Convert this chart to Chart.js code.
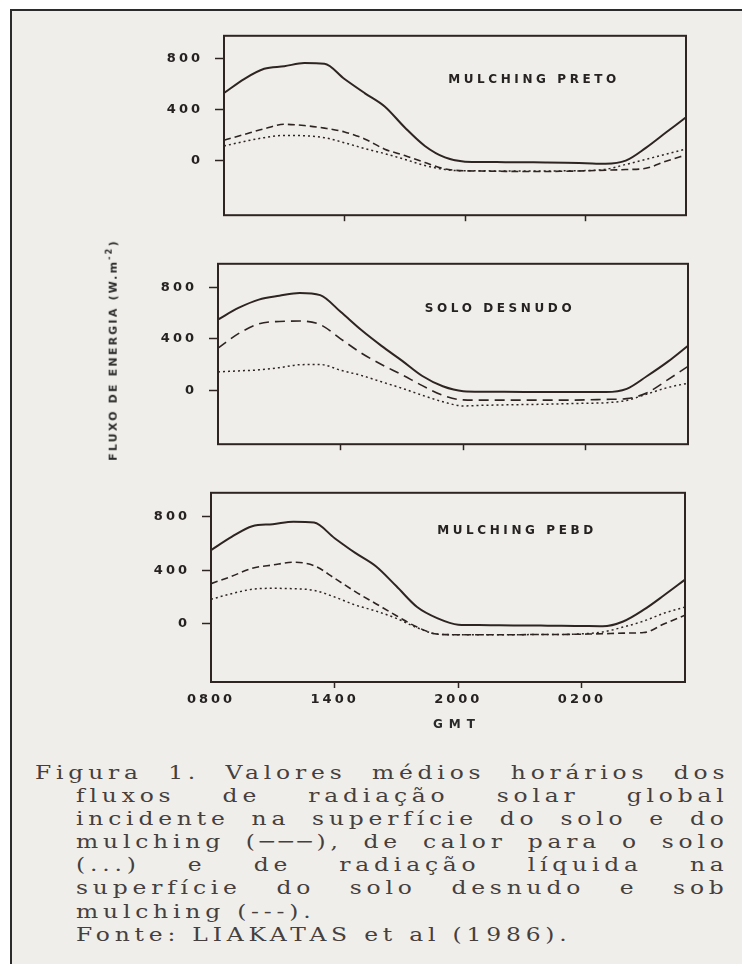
<!DOCTYPE html>
<html>
<head>
<meta charset="utf-8">
<script src="https://cdn.jsdelivr.net/npm/chart.js@4.4.1/dist/chart.umd.min.js"></script>
<style>
  html, body { margin: 0; padding: 0; background: #fff; }
  body { width: 742px; height: 964px; position: relative; overflow: hidden; }
  .frame { position: absolute; left: 10px; top: 9px; width: 740px; height: 960px;
           background: #efeeea; border-left: 2px solid #2b2b2b; border-top: 2px solid #2b2b2b; }
  canvas { position: absolute; left: 0; }
  .ytitle { position: absolute; left: 112px; top: 350px; transform: translate(-50%, -50%) rotate(-90deg);
            font: bold 11px "DejaVu Sans", sans-serif; letter-spacing: 2.2px; color: #2a2a2a; white-space: nowrap; }
  .ytitle sup { font-size: 8px; }
  .gmt { position: absolute; left: 400px; width: 100px; top: 717px; text-align: center; padding-left: 7px;
         font: bold 12px "DejaVu Sans", sans-serif; letter-spacing: 6px; color: #2a2a2a; }
  .cap { position: absolute; left: 0; top: 761px; font-family: "DejaVu Serif", serif; font-size: 18px;
         line-height: 23.1px; letter-spacing: 3.7px; color: #463f3d; }
  .ln { margin-left: 76px; width: 502px; text-align: justify; text-align-last: justify;
        transform: scaleX(1.3); transform-origin: 0 0; white-space: nowrap; }
  .ln.first { margin-left: 35px; width: 534px; }
  .ln.last { text-align-last: left; }
</style>
</head>
<body>
<div class="frame"></div>
<canvas id="preto" width="742" height="219" style="top:16px"></canvas>
<canvas id="desnudo" width="742" height="220" style="top:244px"></canvas>
<canvas id="pebd" width="742" height="262" style="top:473px"></canvas>
<div class="ytitle">FLUXO DE ENERGIA (W.m<sup>-2</sup>)</div>
<div class="gmt">GMT</div>
<div class="cap">
  <div class="ln first">Figura 1. Valores médios horários dos</div>
  <div class="ln">fluxos de radiação solar global</div>
  <div class="ln">incidente na superfície do solo e do</div>
  <div class="ln">mulching (───), de calor para o solo</div>
  <div class="ln">(...) e de radiação líquida na</div>
  <div class="ln">superfície do solo desnudo e sob</div>
  <div class="ln last">mulching (---).</div>
  <div class="ln last">Fonte: LIAKATAS et al (1986).</div>
</div>
<script>
const hours = [8, 9, 10, 11, 12, 13, 14, 15, 16, 17, 18, 19, 20, 21, 22, 23, 24, 25, 26, 27, 28, 29, 30, 31];
const xTickValues = [8, 14, 20, 26];
const xTickLabels = ['0800', '1400', '2000', '0200'];
const yTickValues = [0, 400, 800];

// mulching preto
const pretoGlobal = [530, 640, 720, 740, 765, 760, 640, 530, 425, 260, 115, 25, -8, -10, -12, -13, -14, -16, -20, -24, 0, 100, 220, 340];
const pretoNet = [160, 205, 250, 285, 275, 255, 225, 170, 90, 40, -15, -65, -80, -82, -84, -85, -85, -83, -80, -75, -70, -60, -5, 45];
const pretoSoil = [115, 150, 180, 198, 195, 180, 140, 95, 55, 10, -38, -70, -80, -80, -82, -82, -82, -80, -78, -68, -30, 10, 50, 92];

// solo desnudo
const desnudoGlobal = [550, 640, 705, 735, 757, 740, 610, 470, 345, 230, 110, 30, -8, -12, -13, -14, -15, -15, -15, -15, 10, 110, 220, 346];
const desnudoNet = [327, 440, 516, 535, 538, 510, 400, 290, 200, 120, 35, -40, -76, -78, -78, -78, -78, -78, -76, -72, -66, -20, 80, 185];
const desnudoSoil = [142, 150, 158, 175, 198, 200, 155, 115, 65, 15, -40, -90, -123, -118, -115, -112, -110, -106, -102, -98, -80, -30, 20, 54];

// mulching PEBD
const pebdGlobal = [551, 650, 730, 745, 764, 757, 640, 530, 430, 280, 125, 40, -7, -10, -12, -13, -14, -15, -17, -19, 17, 105, 215, 330];
const pebdNet = [300, 355, 415, 440, 460, 435, 340, 240, 150, 60, -25, -78, -82, -82, -82, -82, -80, -80, -78, -75, -70, -66, 0, 64];
const pebdSoil = [183, 225, 258, 265, 262, 250, 200, 140, 95, 40, -30, -78, -82, -82, -82, -82, -80, -80, -75, -62, -25, 20, 80, 125];

const ink = '#2e2522';
Chart.defaults.font.family = '"DejaVu Sans", sans-serif';
Chart.defaults.font.weight = 'bold';
Chart.defaults.font.size = 13;
Chart.defaults.color = '#262222';

const spacedText = {
    id: 'spacedText',
    beforeDraw(chart) {
        chart.ctx.letterSpacing = '3px';
    }
};

const boxAndLabel = {
    id: 'boxAndLabel',
    afterDraw(chart, args, opts) {
        const ctx = chart.ctx;
        const a = chart.chartArea;
        ctx.save();
        ctx.strokeStyle = ink;
        ctx.lineWidth = 2;
        ctx.strokeRect(a.left, a.top, a.right - a.left, a.bottom - a.top);
        ctx.font = 'bold 12px "DejaVu Sans"';
        ctx.letterSpacing = '3.6px';
        ctx.fillStyle = '#262222';
        ctx.textAlign = 'center';
        ctx.textBaseline = 'middle';
        ctx.fillText(opts.text, opts.x, opts.y);
        ctx.restore();
    }
};

function lineSet(values, dash, width) {
    return {
        data: hours.map((h, i) => ({ x: h, y: values[i] })),
        borderColor: ink,
        borderWidth: width,
        borderDash: dash,
        pointRadius: 0,
        cubicInterpolationMode: 'monotone',
        fill: false
    };
}

function makePanel(p) {
    new Chart(document.getElementById(p.id), {
        type: 'line',
        data: {
            datasets: [
                lineSet(p.global, [], 2),
                lineSet(p.net, p.dash, 1.6),
                lineSet(p.soil, [2, 3], 1.5)
            ]
        },
        options: {
            responsive: false,
            animation: false,
            events: [],
            layout: { padding: { top: 10, right: 742 - p.boxRight, left: 0, bottom: 0 } },
            plugins: {
                legend: { display: false },
                tooltip: { enabled: false },
                boxAndLabel: { text: p.label, x: p.labelX, y: p.labelY }
            },
            scales: {
                x: {
                    type: 'linear', min: 8, max: 31,
                    afterBuildTicks: s => { s.ticks = xTickValues.map(v => ({ value: v })); },
                    afterFit: s => { s.height = p.xHeight; },
                    grid: {
                        drawOnChartArea: false, tickLength: 6, tickWidth: 1.5,
                        tickColor: c => (c.tick && c.tick.value === 8) ? 'rgba(0,0,0,0)' : ink
                    },
                    border: { display: false },
                    ticks: {
                        display: p.showX, padding: 4, maxRotation: 0, autoSkip: false,
                        callback: v => xTickLabels[xTickValues.indexOf(v)]
                    }
                },
                y: {
                    min: p.yMin, max: p.yMax,
                    afterBuildTicks: s => { s.ticks = yTickValues.map(v => ({ value: v })); },
                    afterFit: s => { s.width = p.boxLeft; },
                    grid: { drawOnChartArea: false, tickLength: 9, tickWidth: 1.5, tickColor: ink },
                    border: { display: false },
                    ticks: { padding: 12, callback: v => String(v) }
                }
            }
        },
        plugins: [spacedText, boxAndLabel]
    });
}

makePanel({
    id: 'preto', label: 'MULCHING PRETO', labelX: 534, labelY: 64,
    boxLeft: 224, boxRight: 686, xHeight: 12, yMin: -428, yMax: 979, showX: false,
    global: pretoGlobal, net: pretoNet, soil: pretoSoil, dash: [7, 4]
});
makePanel({
    id: 'desnudo', label: 'SOLO DESNUDO', labelX: 500, labelY: 65,
    boxLeft: 218, boxRight: 688, xHeight: 12, yMin: -421, yMax: 984, showX: false,
    global: desnudoGlobal, net: desnudoNet, soil: desnudoSoil, dash: [10, 6]
});
makePanel({
    id: 'pebd', label: 'MULCHING PEBD', labelX: 517, labelY: 58,
    boxLeft: 211, boxRight: 685, xHeight: 53, yMin: -436, yMax: 980, showX: true,
    global: pebdGlobal, net: pebdNet, soil: pebdSoil, dash: [7, 4]
});
</script>
</body>
</html>
